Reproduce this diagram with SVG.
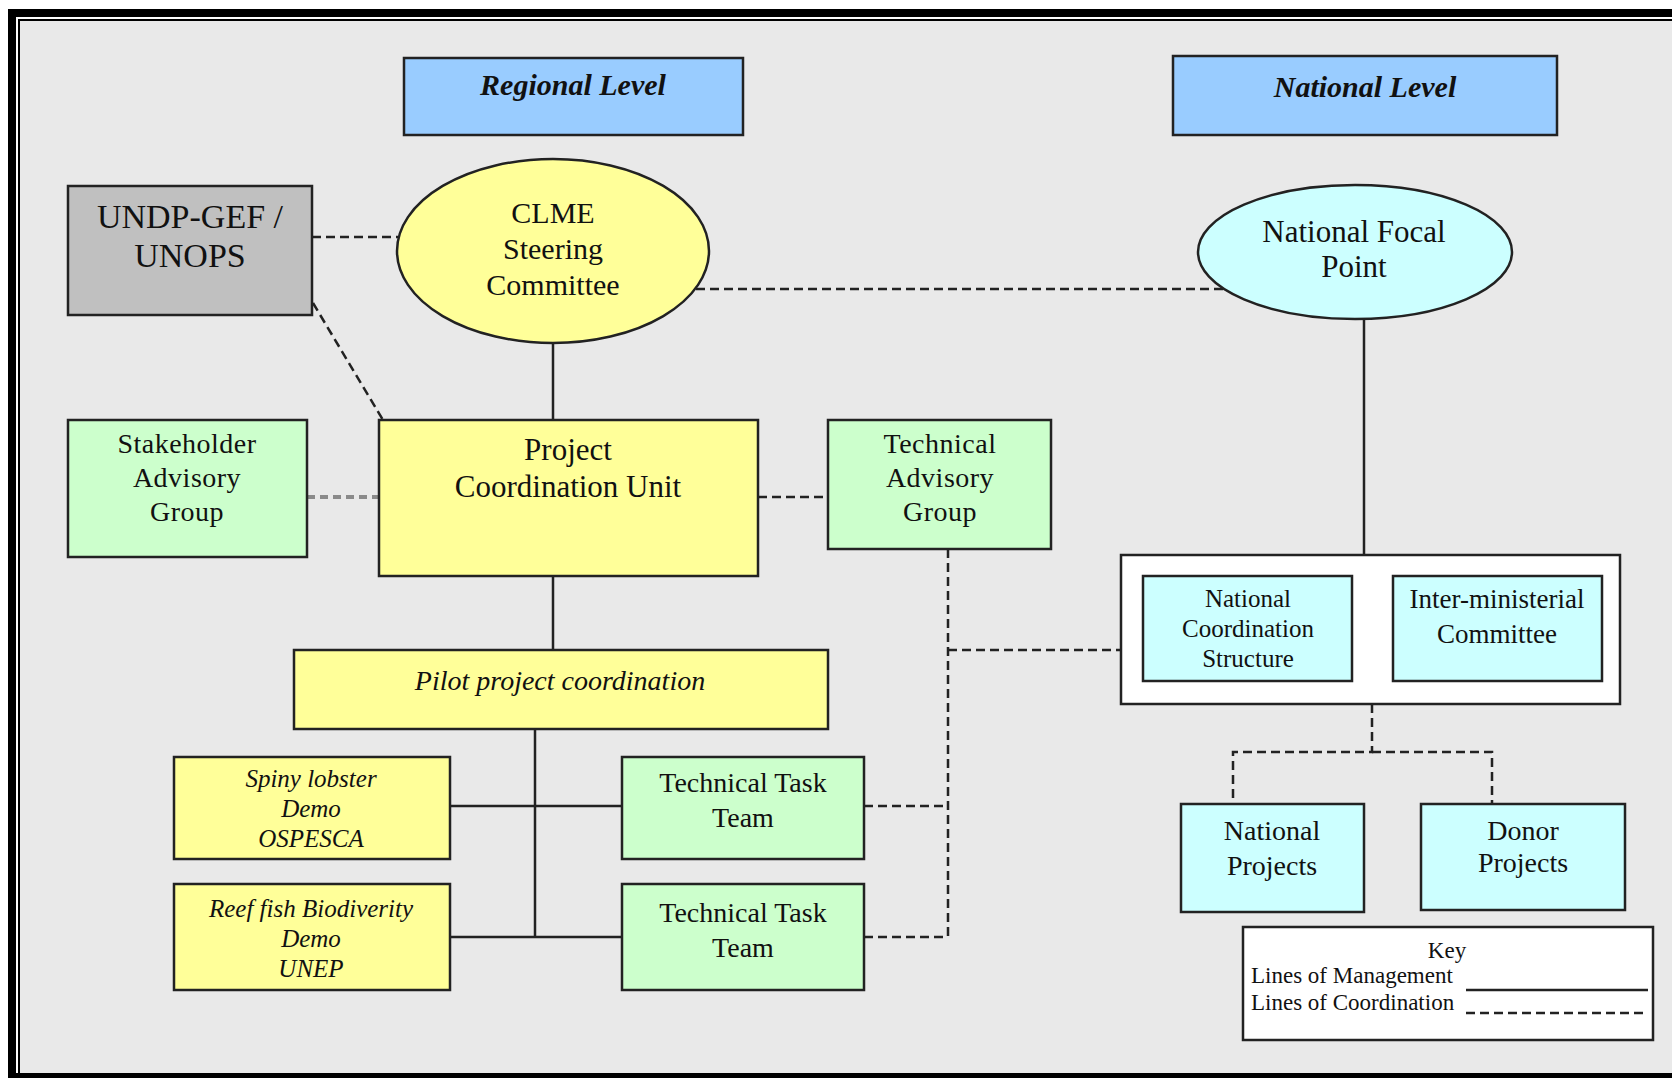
<svg xmlns="http://www.w3.org/2000/svg" width="1672" height="1078" viewBox="0 0 1672 1078">
<style>
text{font-family:"Liberation Serif","Times New Roman",serif;fill:#111;text-anchor:middle}
.box{stroke:#222;stroke-width:2.5}
.blue{fill:#99CCFF}.yel{fill:#FFFF99}.grn{fill:#CCFFCC}.cyan{fill:#CCFFFF}.gray{fill:#C0C0C0}.wht{fill:#FFFFFF}
.solid{stroke:#222;stroke-width:2.5;fill:none}
.dash{stroke:#222;stroke-width:2.5;fill:none;stroke-dasharray:9 5}
.gdash{stroke:#8a8a8a;stroke-width:4;fill:none;stroke-dasharray:8 5}
.it{font-style:italic}
.bi{font-style:italic;font-weight:bold}
</style>
<rect x="0" y="0" width="1672" height="1078" fill="#fff"/>
<rect x="20" y="21" width="1652" height="1052" fill="#E9E9E9"/>
<g id="frame" fill="#000">
<rect x="8" y="9" width="1664" height="8"/>
<rect x="8" y="9" width="8" height="1069"/>
<rect x="18" y="19" width="1654" height="2"/>
<rect x="18" y="19" width="2" height="1059"/>
<rect x="8" y="1073" width="1664" height="5"/>
</g>
<g id="connectors">
<line class="dash" x1="312" y1="237" x2="398" y2="237"/>
<line class="dash" x1="696" y1="289" x2="1224" y2="289"/>
<line class="dash" x1="313" y1="303" x2="383" y2="420"/>
<line class="solid" x1="553" y1="343" x2="553" y2="420"/>
<line class="gdash" x1="307" y1="497" x2="378" y2="497"/>
<line class="dash" x1="758" y1="497" x2="828" y2="497"/>
<line class="solid" x1="553" y1="576" x2="553" y2="650"/>
<line class="solid" x1="535" y1="729" x2="535" y2="937"/>
<line class="solid" x1="450" y1="806" x2="622" y2="806"/>
<line class="solid" x1="450" y1="937" x2="622" y2="937"/>
<line class="dash" x1="948" y1="549" x2="948" y2="937"/>
<line class="dash" x1="864" y1="806" x2="948" y2="806"/>
<line class="dash" x1="864" y1="937" x2="948" y2="937"/>
<line class="dash" x1="948" y1="650" x2="1143" y2="650"/>
<line class="solid" x1="1364" y1="320" x2="1364" y2="555"/>
<line class="dash" x1="1352" y1="621" x2="1393" y2="621"/>
<polyline class="dash" points="1372,704 1372,752 1233,752 1233,804"/>
<polyline class="dash" points="1372,752 1492,752 1492,804"/>
</g>
<g id="regional-level">
<rect class="box blue" x="404" y="58" width="339" height="77"/>
<text class="bi" x="573" y="95" font-size="30">Regional Level</text>
</g>
<g id="national-level">
<rect class="box blue" x="1173" y="56" width="384" height="79"/>
<text class="bi" x="1365" y="97" font-size="30">National Level</text>
</g>
<g id="undp">
<rect class="box gray" x="68" y="186" width="244" height="129"/>
<text x="190" y="228" font-size="34">UNDP-GEF /</text>
<text x="190" y="267" font-size="34">UNOPS</text>
</g>
<g id="clme">
<ellipse class="box yel" cx="553" cy="251" rx="156" ry="92"/>
<text x="553" y="223" font-size="30">CLME</text>
<text x="553" y="259" font-size="30">Steering</text>
<text x="553" y="295" font-size="30">Committee</text>
</g>
<g id="nfp">
<ellipse class="box cyan" cx="1355" cy="252" rx="157" ry="67"/>
<text x="1354" y="242" font-size="31">National Focal</text>
<text x="1354" y="277" font-size="31">Point</text>
</g>
<g id="stakeholder">
<rect class="box grn" x="68" y="420" width="239" height="137"/>
<text x="187" y="453" font-size="28" letter-spacing="0.5">Stakeholder</text>
<text x="187" y="487" font-size="28" letter-spacing="0.5">Advisory</text>
<text x="187" y="521" font-size="28" letter-spacing="0.5">Group</text>
</g>
<g id="pcu">
<rect class="box yel" x="379" y="420" width="379" height="156"/>
<text x="568" y="460" font-size="31">Project</text>
<text x="568" y="497" font-size="31">Coordination Unit</text>
</g>
<g id="tag">
<rect class="box grn" x="828" y="420" width="223" height="129"/>
<text x="940" y="453" font-size="28" letter-spacing="0.5">Technical</text>
<text x="940" y="487" font-size="28" letter-spacing="0.5">Advisory</text>
<text x="940" y="521" font-size="28" letter-spacing="0.5">Group</text>
</g>
<g id="pilot">
<rect class="box yel" x="294" y="650" width="534" height="79"/>
<text class="it" x="560" y="690" font-size="28">Pilot project coordination</text>
</g>
<g id="spiny">
<rect class="box yel" x="174" y="757" width="276" height="102"/>
<text class="it" x="311" y="787" font-size="25">Spiny lobster</text>
<text class="it" x="311" y="817" font-size="25">Demo</text>
<text class="it" x="311" y="847" font-size="25">OSPESCA</text>
</g>
<g id="reef">
<rect class="box yel" x="174" y="884" width="276" height="106"/>
<text class="it" x="311" y="917" font-size="25">Reef fish Biodiverity</text>
<text class="it" x="311" y="947" font-size="25">Demo</text>
<text class="it" x="311" y="977" font-size="25">UNEP</text>
</g>
<g id="ttt1">
<rect class="box grn" x="622" y="757" width="242" height="102"/>
<text x="743" y="792" font-size="28">Technical Task</text>
<text x="743" y="827" font-size="28">Team</text>
</g>
<g id="ttt2">
<rect class="box grn" x="622" y="884" width="242" height="106"/>
<text x="743" y="922" font-size="28">Technical Task</text>
<text x="743" y="957" font-size="28">Team</text>
</g>
<g id="national-structure">
<rect class="box wht" x="1121" y="555" width="499" height="149"/>
</g>
<g id="ncs">
<rect class="box cyan" x="1143" y="576" width="209" height="105"/>
<text x="1248" y="607" font-size="25">National</text>
<text x="1248" y="637" font-size="25">Coordination</text>
<text x="1248" y="667" font-size="25">Structure</text>
</g>
<g id="imc">
<rect class="box cyan" x="1393" y="576" width="209" height="105"/>
<text x="1497" y="608" font-size="27">Inter-ministerial</text>
<text x="1497" y="643" font-size="27">Committee</text>
</g>
<g id="national-projects">
<rect class="box cyan" x="1181" y="804" width="183" height="108"/>
<text x="1272" y="840" font-size="28">National</text>
<text x="1272" y="875" font-size="28">Projects</text>
</g>
<g id="donor-projects">
<rect class="box cyan" x="1421" y="804" width="204" height="106"/>
<text x="1523" y="840" font-size="28">Donor</text>
<text x="1523" y="872" font-size="28">Projects</text>
</g>
<g id="key">
<rect class="box wht" x="1243" y="927" width="410" height="113"/>
<text x="1447" y="958" font-size="23">Key</text>
<text x="1251" y="983" font-size="23" style="text-anchor:start">Lines of Management</text>
<text x="1251" y="1010" font-size="23" style="text-anchor:start">Lines of Coordination</text>
<line class="solid" x1="1466" y1="990" x2="1648" y2="990"/>
<line class="dash" x1="1466" y1="1013" x2="1648" y2="1013"/>
</g>
</svg>
